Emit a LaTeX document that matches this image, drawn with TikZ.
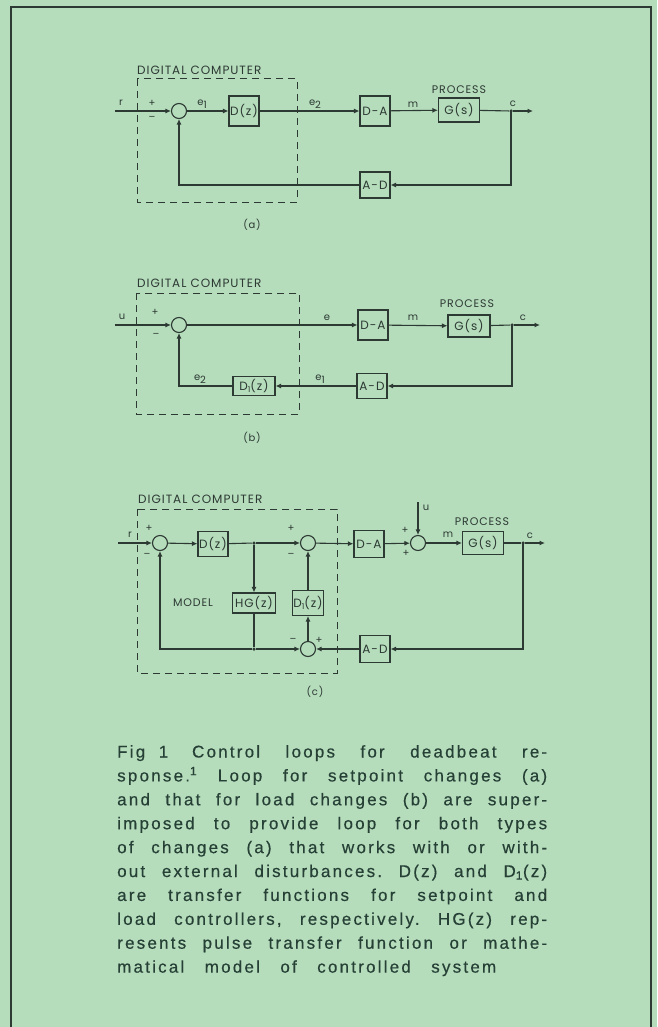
\documentclass[tikz,border=0pt]{standalone}
\usepackage{fontspec}
\setmainfont{Liberation Sans}
\newfontfamily\capfont[LetterSpace=13,FakeBold=0.4]{Liberation Sans}
\newfontfamily\drawfont[LetterSpace=8]{Poppins}
\usepackage{tikz}
\usetikzlibrary{positioning,calc,arrows.meta}
\definecolor{paper}{RGB}{181,220,187}
\definecolor{ink}{RGB}{45,58,52}
\definecolor{captionink}{RGB}{38,64,54}

\begin{document}
\begin{tikzpicture}[x=1pt,y=-1pt,
  blk/.style={draw=ink,line width=1.1pt,align=center,inner sep=1pt,text=ink,
              font=\drawfont\fontsize{12}{13}\selectfont,minimum width=30pt,minimum height=30pt},
  sumpt/.style={circle,draw=ink,line width=1.1pt,minimum size=15pt,inner sep=0pt},
  arr/.style={-{Latex[length=5.5pt,width=5pt]},line width=1.1pt,color=ink},
  wire/.style={line width=1.1pt,color=ink},
  sig/.style={font=\drawfont\fontsize{10}{11}\selectfont,text=ink,inner sep=0pt},
  hdr/.style={font=\drawfont\fontsize{11}{12}\selectfont,text=ink,inner sep=0pt},
  dchdr/.style={hdr,font=\drawfont\fontsize{12}{13}\selectfont},
  dashbox/.style={draw=ink,line width=1pt,dash pattern=on 7pt off 5pt},
  dot/.style={circle,fill=ink,inner sep=0pt,minimum size=3.5pt}]
  \fill[paper] (0,0) rectangle (657,1027);
  \useasboundingbox (0,0) rectangle (657,1027);
  \draw[ink,line width=2.5pt] (11,1027) -- (11,7) -- (651,7) -- (651,1027);

  % (a) setpoint loop
  \draw[dashbox] (137,79) rectangle (297,202);
  \node[dchdr,anchor=west] (dca) at (137,70.5) {DIGITAL COMPUTER};
  \coordinate (ra) at (115,111);
  \node[sumpt] (sa) at (179,111) {};
  \node[blk] (dza) at (244,111) {D(z)};
  \node[blk] (daa) at (375,111) {D-A};
  \node[blk,minimum width=41pt,minimum height=24pt] (gsa) at (459,110) {G(s)};
  \node[hdr] (pra) at (459,90) {PROCESS};
  \node[dot] (ca) at (511,111) {};
  \coordinate (oa) at (533,111);
  \node[blk,minimum height=26pt] (ada) at (375,185) {A-D};
  \draw[arr] (ra) -- (sa);
  \draw[arr] (sa) -- (dza);
  \draw[arr] (dza) -- (daa);
  \draw[arr] (daa) -- (gsa);
  \draw[wire] (gsa) -- (ca);
  \draw[arr] (ca) -- (oa);
  \draw[arr] (ca.center) |- (ada);
  \draw[arr] (ada) -| (sa);
  \node[sig] at (121,103) {r};
  \node[sig] at (152,103) {+};
  \node[sig] at (152,118) {\textendash};
  \node[sig] at (202,104) {e\raisebox{-2.5pt}{1}};
  \node[sig] at (315,104) {e\raisebox{-2.5pt}{2}};
  \node[sig] at (413,105) {m};
  \node[sig] at (513,104) {c};
  \node[sig] at (252,225) {(a)};

  % (b) load loop
  \draw[dashbox] (136,293) rectangle (299,414);
  \node[dchdr,anchor=west] (dcb) at (137,283) {DIGITAL COMPUTER};
  \coordinate (ub) at (115,325);
  \node[sumpt] (sb) at (179,325) {};
  \node[blk] (dab) at (373,325) {D-A};
  \node[blk,minimum width=42pt,minimum height=22pt] (gsb) at (469,326) {G(s)};
  \node[hdr] (prb) at (467,304) {PROCESS};
  \node[dot] (cb) at (512,325) {};
  \coordinate (ob) at (540,325);
  \node[blk,minimum height=25pt] (adb) at (372,386) {A-D};
  \node[blk,minimum width=42pt,minimum height=19pt] (d1b) at (254,386) {D\raisebox{-2pt}{\footnotesize 1}(z)};
  \draw[arr] (ub) -- (sb);
  \draw[arr] (sb) -- (dab);
  \draw[arr] (dab) -- (gsb);
  \draw[wire] (gsb) -- (cb);
  \draw[arr] (cb) -- (ob);
  \draw[arr] (cb.center) |- (adb);
  \draw[arr] (adb) -- (d1b);
  \draw[arr] (d1b) -| (sb);
  \node[sig] at (122,317) {u};
  \node[sig] at (155,312) {+};
  \node[sig] at (156,335) {\textendash};
  \node[sig] at (327,318) {e};
  \node[sig] at (413,318) {m};
  \node[sig] at (523,318) {c};
  \node[sig] at (320,379) {e\raisebox{-2.5pt}{1}};
  \node[sig] at (200,379) {e\raisebox{-2.5pt}{2}};
  \node[sig] at (252,438) {(b)};

  % (c) both loops
  \draw[dashbox] (137,509) rectangle (337,673);
  \node[dchdr,anchor=west] (dcc) at (138,499) {DIGITAL COMPUTER};
  \coordinate (rc) at (118,543);
  \node[sumpt] (s1) at (160,543) {};
  \node[blk,minimum height=25pt] (dzc) at (213,544) {D(z)};
  \node[dot] (bm) at (254,543) {};
  \node[sumpt] (s2) at (308,543) {};
  \node[blk,minimum width=43pt,minimum height=20pt] (hg) at (254,603) {HG(z)};
  \node[hdr] (mdl) at (193,603) {MODEL};
  \node[blk,minimum height=25pt] (d1c) at (308,603) {D\raisebox{-2pt}{\footnotesize 1}(z)};
  \node[dot] (jm) at (254,649) {};
  \node[sumpt] (s3) at (308,649) {};
  \node[blk,minimum height=27pt] (adc) at (375,649) {A-D};
  \node[blk,minimum height=27pt] (dac) at (369,544) {D-A};
  \node[sumpt] (s4) at (418,543) {};
  \coordinate (uc) at (418,502);
  \node[blk,minimum width=41pt,minimum height=23pt] (gsc) at (483,543) {G(s)};
  \node[hdr] (prc) at (482,522) {PROCESS};
  \node[dot] (cc) at (523,543) {};
  \coordinate (oc) at (545,543);
  \draw[arr] (rc) -- (s1);
  \draw[arr] (s1) -- (dzc);
  \draw[wire] (dzc) -- (bm);
  \draw[arr] (bm) -- (s2);
  \draw[arr] (bm) -- (hg);
  \draw[wire] (hg) -- (jm);
  \draw[arr] (jm) -- (s3);
  \draw[arr] (jm) -| (s1);
  \draw[arr] (s3) -- (d1c);
  \draw[arr] (d1c) -- (s2);
  \draw[arr] (s2) -- (dac);
  \draw[arr] (dac) -- (s4);
  \draw[arr] (uc) -- (s4);
  \draw[arr] (s4) -- (gsc);
  \draw[wire] (gsc) -- (cc);
  \draw[arr] (cc) -- (oc);
  \draw[arr] (cc.center) |- (adc);
  \draw[arr] (adc) -- (s3);
  \node[sig] at (130,535) {r};
  \node[sig] at (149,528) {+};
  \node[sig] at (147,555) {\textendash};
  \node[sig] at (291,528) {+};
  \node[sig] at (291,555) {\textendash};
  \node[sig] at (293,640) {\textendash};
  \node[sig] at (319,640) {+};
  \node[sig] at (405,530) {+};
  \node[sig] at (406,553) {+};
  \node[sig] at (426,508) {u};
  \node[sig] at (448,535) {m};
  \node[sig] at (530,536) {c};
  \node[sig] at (315,692) {(c)};

  % caption
  \node[anchor=north west,inner sep=0pt,text width=430pt,align=justify,text=captionink,
        font=\capfont\fontsize{17}{23.9}\selectfont] (capt) at (117,745)
    {\hyphenpenalty=10000\exhyphenpenalty=10000\frenchspacing
     Fig\hspace{0.8em}1\hspace{1.4em}Control loops for deadbeat re-\linebreak
     sponse.\textsuperscript{1} Loop for setpoint changes (a)\linebreak
     and that for load changes (b) are super-\linebreak
     imposed to provide loop for both types\linebreak
     of changes (a) that works with or with-\linebreak
     out external disturbances. D(z) and D\textsubscript{1}(z)\linebreak
     are transfer functions for setpoint and\linebreak
     load controllers, respectively. HG(z) rep-\linebreak
     resents pulse transfer function or mathe-\linebreak
     \makebox[379pt][s]{matical model of controlled system}};
\end{tikzpicture}
\end{document}
